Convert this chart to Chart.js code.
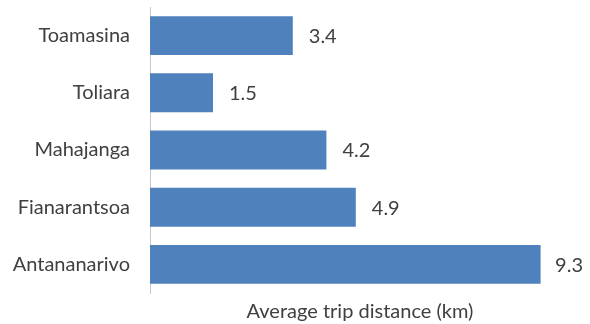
<!DOCTYPE html>
<html>
<head>
<meta charset="utf-8">
<script src="https://cdn.jsdelivr.net/npm/chart.js@4/dist/chart.umd.min.js"></script>
<style>
  html, body { margin: 0; padding: 0; background: #ffffff; }
  #wrap { width: 590px; height: 324px; }
</style>
</head>
<body>
<div id="wrap"><canvas id="c" width="590" height="324"></canvas></div>
<script>
const cities = ['Toamasina', 'Toliara', 'Mahajanga', 'Fianarantsoa', 'Antananarivo'];
const avgTripKm = [3.4, 1.5, 4.2, 4.9, 9.3];
const axisTitle = 'Average trip distance (km)';

const FONT = 'Lato, "Liberation Sans", sans-serif';
const TEXT = '#404040';

// Writes each bar's value just past its end, pulled back if it would run off the canvas
const valueLabels = {
  id: 'valueLabels',
  afterDatasetsDraw(chart) {
    const ctx = chart.ctx;
    const meta = chart.getDatasetMeta(0);
    ctx.save();
    ctx.font = '20px ' + FONT;
    ctx.fillStyle = TEXT;
    ctx.textAlign = 'left';
    ctx.textBaseline = 'middle';
    meta.data.forEach((bar, i) => {
      const txt = avgTripKm[i].toFixed(1);
      const w = ctx.measureText(txt).width;
      const x = Math.min(bar.x + 16, chart.width - 7 - w);
      ctx.fillText(txt, x, bar.y + 1);
    });
    ctx.restore();
  }
};

new Chart(document.getElementById('c'), {
  type: 'bar',
  data: {
    labels: cities,
    datasets: [{
      data: avgTripKm,
      backgroundColor: '#4f81bd',
      borderWidth: 0,
      categoryPercentage: 1,
      barPercentage: 0.68
    }]
  },
  options: {
    indexAxis: 'y',
    responsive: false,
    animation: false,
    layout: { padding: { top: 7, right: 20, left: 0, bottom: 0 } },
    plugins: { legend: { display: false }, tooltip: { enabled: false } },
    scales: {
      x: {
        min: 0,
        max: 10,
        grid: { display: false },
        border: { display: false },
        ticks: { display: false },
        title: {
          display: true,
          text: axisTitle,
          color: TEXT,
          font: { family: FONT, size: 20 },
          padding: { top: 0, bottom: 0 }
        },
        afterFit(scale) {
          scale.height = 31;
          scale.paddingLeft = 0;
          scale.paddingRight = 0;
        }
      },
      y: {
        grid: { display: false, drawTicks: false },
        border: { display: true, color: '#c8c8c8', width: 1 },
        ticks: {
          color: TEXT,
          font: { family: FONT, size: 20 },
          padding: 20
        },
        afterFit(scale) {
          scale.width = 150;
          scale.paddingTop = 0;
          scale.paddingBottom = 0;
        }
      }
    }
  },
  plugins: [valueLabels]
});
</script>
</body>
</html>
